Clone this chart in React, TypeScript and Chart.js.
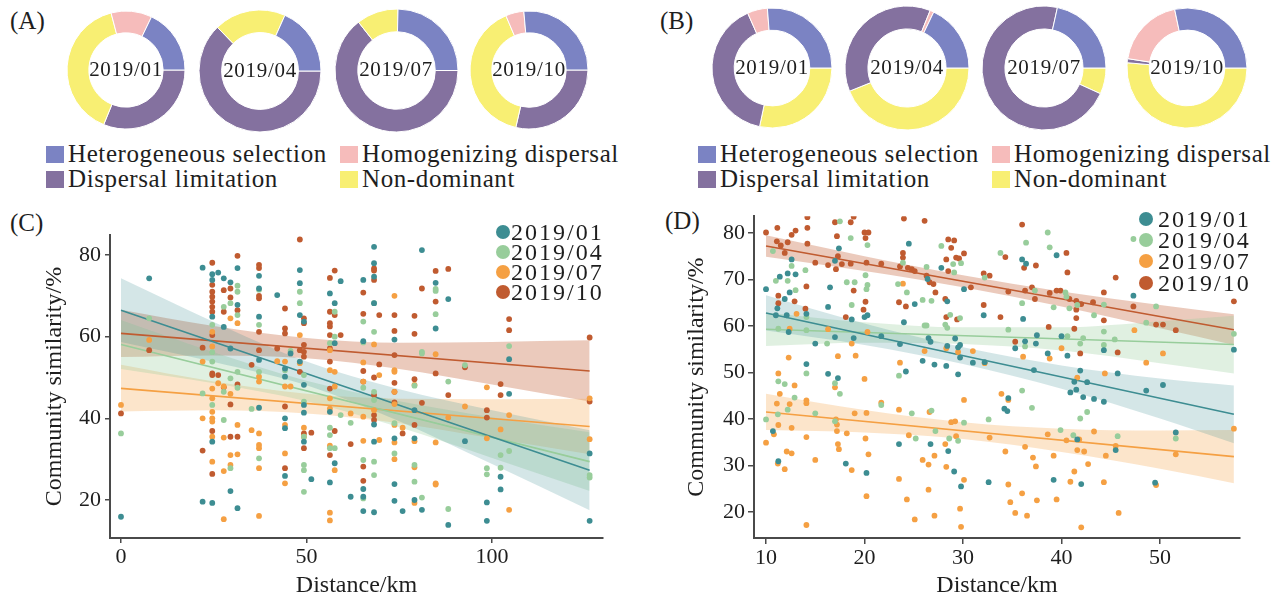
import React, { useEffect, useRef } from "react";
import { Chart, registerables } from "chart.js";

Chart.register(...registerables);

const SERIF = "'Liberation Serif', 'Times New Roman', Times, serif";
const INK = "#1e1e1e";
const AXIS = "#4a4a4a";

// ---------- doughnut panels ----------
const CATEGORY_LABELS = ["Heterogeneous selection", "Homogenizing dispersal", "Dispersal limitation", "Non-dominant"];
const CATEGORY_COLORS = ["#7b83c3", "#f6bcbb", "#84719f", "#f8ef73"];
const MONTHS = ["2019/01", "2019/04", "2019/07", "2019/10"];

// shares (%) per month: [Heterogeneous, Homogenizing, Dispersal limitation, Non-dominant]
const A_SHARES = [
  [17.9, 11.2, 31.2, 39.8],
  [18.3, 0, 62.7, 19.0],
  [24.6, 0, 64.4, 11.0],
  [26.4, 5.0, 28.6, 40.0],
];
const B_SHARES = [
  [26.2, 5.4, 40.0, 28.3],
  [17.9, 1.0, 37.2, 43.9],
  [21.5, 0, 71.6, 6.8],
  [28.3, 19.2, 1.1, 51.4],
];
// clockwise drawing order starting at 3 o'clock
const A_ORDER = [2, 3, 1, 0];
const B_ORDER = [3, 2, 1, 0];

// ---------- scatter panels ----------
const SERIES_COLORS = ["#3d8d92", "#98cd9b", "#f5a043", "#c05b30"];
const BAND_COLORS = ["rgba(61,141,146,0.22)", "rgba(152,205,155,0.30)", "rgba(245,160,67,0.28)", "rgba(192,91,48,0.32)"];

type Pt = [number, number];

const C_JAN: Pt[] = [[0,15.9],[7.6,74.3],[22,76.9],[22,19.6],[24.6,75.3],[24.6,73.9],[24.6,64.9],[24.6,34.3],[24.6,19.3],[26.2,75.7],[27.7,74.3],[27.7,62.4],[29.5,73.3],[29.5,57.1],[29.5,22.2],[31.4,76.8],[31.4,67.8],[31.4,18.0],[37.2,74.9],[37.2,71.8],[37.2,64.9],[37.2,54.3],[37.2,42.6],[42.1,70.2],[44.2,52.2],[44.2,50.2],[44.2,40],[44.2,37.6],[44.2,25.9],[45.7,55.9],[48.2,76.3],[48.2,73.1],[48.2,65.3],[48.2,53.9],[49.3,63.7],[49.3,48.2],[49.3,43.3],[49.3,41.4],[49.3,34.3],[51.3,25.1],[56.3,70.6],[56.3,41.6],[56.3,24.3],[57.6,68.2],[57.6,58.4],[57.6,29],[59.2,73.6],[61.9,20.8],[65.3,73.9],[65.3,58.9],[65.3,22.7],[65.3,20.8],[65.3,17.3],[68.2,82],[68.2,78],[68.2,74.7],[68.2,68.2],[68.2,38.5],[68.2,34.3],[68.2,17],[73.7,59.3],[73.7,35.1],[73.7,23.9],[73.7,19.8],[75.9,17.3],[79.1,42],[79.1,35.1],[79.1,20],[81.1,81.2],[81.1,17.6],[84.8,73.2],[84.8,62],[88.2,69.2],[88.2,13.9],[92.7,34.4],[98.6,19.4],[98.6,14.9],[102.3,25.7],[102.3,22.6],[104.6,54.5],[104.6,46],[126.3,31.4],[126.3,14.9]];
const C_APR: Pt[] = [[0,36.3],[7.6,64.5],[22,46.1],[24.6,62.9],[24.6,56.2],[24.6,53.9],[24.6,43.3],[27.7,67.3],[27.7,46.5],[27.7,39.6],[29.5,68.2],[29.5,49.8],[29.5,27.8],[31.4,72.5],[31.4,71],[31.4,65.3],[31.4,51.4],[31.4,47.5],[35.2,42.3],[37.2,71.5],[37.2,62.9],[37.2,51.4],[37.2,30.2],[44.2,51.8],[45.7,56.5],[48.2,71],[48.2,68.2],[49.3,50.6],[49.3,44.1],[49.3,35.5],[49.3,28.6],[49.3,27.3],[49.3,22],[56.3,58.4],[56.3,37.7],[56.3,35.9],[56.3,32.7],[57.6,66.1],[57.6,60],[57.6,32.7],[59.2,40.8],[61.9,38.9],[65.3,63.7],[65.3,58.6],[65.3,47.5],[65.3,29.8],[65.3,20.4],[68.2,68.2],[68.2,61.2],[68.2,46.5],[68.2,44.5],[68.2,29.4],[68.2,26.1],[73.7,38.8],[73.7,31.4],[79.1,48],[79.1,28.6],[79.1,24.5],[81.1,56.3],[81.1,55.9],[81.1,20.6],[84.8,71.7],[84.8,71.2],[84.8,65.5],[88.2,49],[88.2,17.8],[92.7,53],[98.6,27.8],[98.6,26.3],[102.3,31],[102.3,27.9],[104.6,57.7],[104.6,32],[126.3,26.1],[126.3,25.5]];
const C_JUL: Pt[] = [[0,43.3],[7.6,59.2],[22,53.9],[22,40],[24.6,61.2],[24.6,57.6],[24.6,47.3],[24.6,44.9],[24.6,41.6],[24.6,40],[24.6,39.2],[24.6,35.5],[24.6,29.4],[26.2,48.6],[27.7,47.8],[27.7,35.3],[27.7,27.1],[27.7,15.3],[29.5,64.5],[29.5,46],[29.5,31],[29.5,28.6],[31.4,63.3],[31.4,38.4],[31.4,31.2],[35.2,37.1],[37.2,50.2],[37.2,49],[37.2,36.3],[37.2,33.5],[37.2,32.7],[37.2,27.8],[37.2,16.1],[42.1,54],[44.2,53.9],[44.2,47.8],[44.2,38.4],[44.2,31.4],[44.2,24.1],[45.7,47.8],[48.2,60.4],[48.2,53.5],[49.3,37.7],[49.3,35.5],[56.3,56.7],[56.3,51.8],[56.3,44.9],[56.3,42.4],[56.3,33.3],[56.3,16.9],[56.3,15],[57.6,51.4],[57.6,47.8],[57.6,27.3],[61.9,41.2],[65.3,53.7],[65.3,49],[65.3,40.4],[65.3,34.5],[68.2,58.1],[68.2,42],[69.6,50.6],[69.6,34.7],[73.7,70],[73.7,51.8],[73.7,51.4],[73.7,46.5],[73.7,43.5],[73.7,38.4],[73.7,34.1],[73.7,30],[75.9,37.7],[79.1,48.2],[79.1,34.4],[79.1,28],[79.1,19.3],[84.8,55.7],[84.8,34.1],[84.8,23.8],[84.8,24.1],[88.2,40.2],[92.7,42.9],[98.6,47.6],[98.6,35.1],[102.3,37.3],[104.6,40.8],[104.6,17.6],[126.3,44.9],[126.3,34.9]];
const C_OCT: Pt[] = [[0,41.2],[7.6,56.7],[22,57.3],[22,32.1],[24.6,78.1],[24.6,72.7],[24.6,71],[24.6,69.8],[24.6,68.6],[24.6,67.3],[24.6,66.1],[24.6,60.4],[24.6,51],[24.6,50.6],[24.6,36.9],[24.6,26.4],[26.2,50.6],[27.7,71.4],[27.7,66.1],[27.7,47.6],[29.5,69.6],[29.5,71.8],[29.5,43.4],[29.5,35.5],[31.4,79.8],[31.4,66.5],[31.4,48.3],[31.4,35.5],[35.2,53.1],[37.2,77.6],[37.2,76.8],[37.2,70],[37.2,69.4],[37.2,61.2],[37.2,56.7],[42.1,57.1],[44.2,66.9],[44.2,62],[44.2,60.8],[44.2,42.9],[44.2,27.8],[48.2,83.8],[48.2,56.7],[48.2,51.4],[49.3,64.5],[49.3,63.3],[49.3,58],[49.3,56.3],[49.3,55.1],[49.3,36.3],[49.3,32.7],[51.3,36.5],[56.3,74.4],[56.3,66.1],[56.3,63.3],[56.3,62.5],[56.3,60.4],[56.3,57.1],[56.3,53.9],[56.3,47.3],[56.3,31],[57.6,76.2],[57.6,65.3],[57.6,36.9],[59.2,60.4],[61.9,33.7],[65.3,70.8],[65.3,65.6],[65.3,51.6],[65.3,49],[65.3,28.2],[65.3,24.7],[68.2,76.7],[68.2,76.2],[68.2,73.9],[68.2,50],[68.2,45.7],[68.2,40.8],[68.2,39.6],[69.6,65.3],[69.6,53.2],[73.7,65.3],[73.7,61.4],[73.7,55.5],[73.7,48.7],[73.7,46.5],[73.7,43.9],[75.9,36.3],[79.1,65.1],[79.1,60.7],[79.1,49.6],[79.1,38.4],[81.1,71.8],[81.1,43.8],[84.8,76.1],[84.8,68.6],[84.8,51],[88.2,76.6],[88.2,45.7],[92.7,52.5],[98.6,42],[98.6,40.2],[102.3,48.4],[102.3,45.7],[104.6,64.3],[104.6,61.6],[126.3,59.8],[126.3,44.1]];

const D_JAN: Pt[] = [[10,67.9],[11.4,70.6],[11.9,65.8],[12.4,67.2],[13,71.1],[12.2,71.3],[11.15,63.8],[11,62.3],[12.1,62.3],[12.6,74.3],[14.1,62.6],[16.5,68.3],[16.3,64.1],[18.7,61.4],[17.4,76.7],[17,74],[20,61.9],[20.3,62.3],[24.5,77.7],[25.1,64.7],[24,60.8],[26.4,70.1],[27.8,72.5],[28.4,65.3],[30.1,67.9],[32.1,62.3],[12.3,58.7],[15,56.2],[17,57.6],[18.9,57.4],[14.1,51.8],[16.3,49.7],[17.3,48.8],[21.7,57.8],[23.6,56.1],[24.2,50.2],[25.9,52.5],[27.1,51.7],[28.3,51.4],[26.5,57.4],[26.7,56.6],[28.4,55.7],[29.2,57.3],[29.5,55.4],[29.7,55.9],[29.5,49.6],[29.7,53.2],[31,52.1],[32.2,52.2],[10.7,37.4],[11.25,30.9],[18.1,30.4],[20.2,28.4],[23.5,34.6],[26.7,34.6],[28.5,33.1],[29.1,28.7],[29.8,25.5],[32.6,26.4],[39.5,75.2],[36,74.3],[36.4,73.4],[47.3,66.5],[57.5,54.9],[36.1,61.5],[37.5,58],[40,57.8],[44.3,54.8],[36.3,56.7],[37.4,56.2],[35.3,55.2],[40.6,53.6],[38.6,54.1],[37.2,50.5],[41.9,50.4],[41.3,48],[42.6,47.9],[40.9,45.7],[41.5,46.3],[42.2,44.7],[43.3,44.3],[44.3,43.7],[45.7,49.8],[48.6,46.1],[50.3,47.3],[34.6,44.5],[34.2,42.2],[34.5,41.7],[41.6,35.6],[45.5,33.3],[39.2,26.9],[42,26],[49.5,26.3],[51.6,37.1]];
const D_APR: Pt[] = [[10.7,76.1],[17.5,82.5],[18.6,78.9],[20.3,77.4],[23.9,73.6],[26.3,72.7],[27.8,77.2],[29,73.3],[29.1,71.5],[29.8,73.5],[11,69.7],[12.2,69.7],[12.6,72.9],[13,67.7],[14,72],[14.1,61.9],[18.2,69.4],[19,69.4],[18.7,64.5],[20.2,67.9],[20.1,70.9],[20.3,68.8],[23.4,69],[24.3,67.2],[25.9,65.6],[26.8,65.4],[28.7,62.4],[29.7,61.7],[26.1,60.1],[26.3,60.1],[32.2,70.4],[28.4,59.6],[28.2,60.3],[11.25,59.4],[14.1,59.1],[16.2,56.2],[11.25,48.1],[11.9,47.5],[14.1,49.8],[17,47.7],[17.5,45.4],[23.5,49.3],[10,39.9],[12.2,42],[11.2,41],[12.9,44.6],[15,41.2],[17,39.5],[21.7,43],[24.8,41.2],[25.2,35.8],[26.8,41.8],[27.2,37.4],[28.6,35.8],[29.5,35.3],[30.1,39.2],[32.6,39.9],[36.4,77.9],[38.6,80.1],[38.8,76.9],[33.8,75.7],[47.3,78.7],[37.3,67.6],[40.4,67.2],[40.5,66.3],[41.6,64.5],[44.3,64.6],[43.3,62.3],[49.6,64.2],[48.6,60.7],[57.5,58.3],[39.2,64],[40.8,63.8],[36,64.9],[34.6,59.2],[40.6,57.8],[42.2,57.4],[44.3,58.8],[45.4,57.1],[44.3,55.9],[41.9,56.2],[36.3,55.6],[36,46.1],[37,42.4],[42.6,41.5],[41.9,40.1],[39.9,37.6],[41.2,36.5],[45.7,36.3],[51.6,35.8]];
const D_JUL: Pt[] = [[12.4,59.4],[13.1,62.6],[16.3,59.3],[18.7,56.2],[12.3,53.2],[11.25,49.8],[12.9,47.2],[17.3,53.5],[19.1,53.6],[17,46.8],[20,48.6],[20.3,58.7],[23.6,52.1],[26.1,54.6],[28.3,55.2],[29.5,54.4],[31,54.6],[32.2,52],[10,34.9],[10.8,36.7],[11.1,43.3],[11.4,45.4],[12.4,43.2],[12.6,38.1],[11.25,38.7],[11.2,30.4],[11.9,29.2],[12.1,33],[12.6,32.6],[14.1,44],[14.1,43.4],[14.1,36.1],[14.1,17.2],[15,31.2],[17.1,39.9],[17.2,38.8],[17.2,37.4],[17.3,34.6],[17.4,33.5],[18.2,36.9],[18.7,29],[19,41.2],[20.2,41.3],[20.1,35.8],[20.4,32.4],[20.2,23.4],[21.7,43.5],[23.5,42],[23.5,27.1],[24.3,22.7],[24.5,36.5],[25.1,18.4],[26.6,41.5],[25.9,31.2],[26.5,30.2],[27.1,32.1],[26.5,24.8],[27.1,19.2],[28.2,34.6],[28.3,29.7],[28.8,39.3],[29.2,39.5],[29.3,36.3],[30.1,26.9],[29.7,20.7],[29.8,16.8],[30.1,44.1],[23.9,69.1],[40,55.2],[38.8,53],[36.1,53.4],[47.4,59.1],[48.6,52.1],[50.3,54.1],[41.6,48.9],[44.4,49.8],[33.9,45.4],[34.6,44.1],[32.7,36],[38.6,36.7],[40.5,35.4],[41.8,35.6],[43.3,37.3],[45.5,34.2],[51.6,32.4],[57.5,37.9],[36.3,34],[34.3,33],[37.1,31.7],[39.2,32.1],[41.6,33.3],[42.3,33],[44.5,32.1],[42.7,30.3],[37.4,29.8],[41.3,28.7],[40.9,26.5],[44.3,26.4],[49.6,25.8],[34.6,25.9],[36,24],[37.5,22.5],[39.5,22.7],[34.8,22.1],[35.3,19.8],[36.5,19.2],[45.8,19.8],[42,16.7]];
const D_OCT: Pt[] = [[10,80.1],[11.25,84.3],[11.15,81.1],[11.1,78.2],[11.5,77.3],[11.9,75.7],[12.2,78],[12.6,79.6],[13,80.5],[14.2,83.4],[14.2,81.1],[14.2,77.7],[15,73.6],[16.3,73.1],[17,82.3],[17.2,79.3],[18.9,83.5],[18.6,82.3],[17.3,75],[17.1,72.2],[17.7,73.3],[18.6,73.4],[20,80.1],[20.4,80.1],[20.1,78.9],[20.2,73.6],[21.7,73.4],[24,83.1],[26.1,82.6],[23.9,75.7],[23.9,74.7],[23.6,72.8],[24.4,72.5],[24.8,72.2],[25.1,71.8],[26.3,70.8],[27,69],[28.5,78.6],[29.1,78.4],[28.8,76.8],[28.3,74.3],[29.3,74.7],[30.1,75.6],[28.5,71.8],[29.6,74.5],[11.25,66.5],[12.9,65.3],[11.25,64.9],[14.1,68.5],[14,63.7],[18.9,67.6],[18.1,61.9],[20.1,65.2],[19.9,63.5],[23.5,65.1],[24.2,64.2],[26.6,69.4],[27.2,67.2],[28.2,65.8],[28.3,61.9],[30.8,68.3],[29.4,61.4],[32.1,71.3],[32.1,64.5],[36,81.8],[40.5,75.7],[36.2,72.5],[37.4,73],[40.6,71.5],[34.3,74.8],[32.7,70.8],[45.5,70.4],[57.5,65.3],[34.6,67.4],[36.3,67.6],[37,68.3],[37.3,65.8],[38.8,67.1],[39.5,67.6],[39.9,67.6],[40.8,65.8],[41.5,65.4],[42,64.7],[43.2,65.1],[44.3,67.2],[41.5,63.5],[41.5,61.7],[44.3,61.2],[49.6,60.3],[50.3,60.3],[51.6,59.1],[47.3,64.2],[38.7,59.8],[41.3,59.4],[33.8,61.9],[35.3,56.6],[41.9,54.1],[45.7,54.3]];

// fitted lines (endpoints) per month
const C_LINE_X = [0, 126.3];
const C_LINE_Y = [[66.5, 27.3], [58.1, 29.4], [47.35, 38.0], [60.8, 51.6]];
const D_LINE_X = [10, 57.5];
const D_LINE_Y = [[62.8, 41.0], [59.3, 56.0], [41.5, 31.9], [77.2, 59.2]];

// confidence bands read at sample distances
const C_BAND_X = [0, 25, 50, 75, 100, 126.3];
const C_BAND_LOW = [[58.7, 53.8, 48.1, 39.3, 28.8, 17.5], [52.1, 48.6, 44.2, 37.8, 30.3, 22.2], [41.7, 42.0, 41.2, 38.8, 35.1, 31.2], [55.0, 55.4, 54.7, 52.1, 48.3, 44.1]];
const C_BAND_HIGH = [[74.3, 63.6, 53.9, 47.1, 42.0, 37.1], [64.1, 56.2, 49.2, 44.2, 40.3, 36.6], [53.1, 49.0, 46.0, 44.8, 44.7, 44.8], [66.6, 62.6, 59.7, 58.5, 58.7, 59.1]];
const D_BAND_X = [10, 20, 30, 40, 50, 57.5];
const D_BAND_LOW = [[59.0, 55.9, 51.8, 46.5, 40.1, 34.8], [55.7, 56.4, 56.1, 54.7, 52.0, 49.8], [37.6, 37.1, 35.7, 32.9, 29.3, 26.2], [74.9, 71.8, 68.3, 64.2, 59.5, 55.9]];
const D_BAND_HIGH = [[66.6, 60.5, 55.4, 51.5, 48.7, 47.2], [62.9, 60.8, 59.7, 59.7, 61.0, 62.2], [45.4, 41.9, 39.3, 37.9, 37.5, 37.6], [79.5, 75.0, 70.9, 67.4, 64.5, 62.5]];

const C_X_TICKS = [0, 50, 100];
const C_Y_TICKS = [20, 40, 60, 80];
const D_X_TICKS = [10, 20, 30, 40, 50];
const D_Y_TICKS = [20, 30, 40, 50, 60, 70, 80];

const X_TITLE = "Distance/km";
const Y_TITLE = "Community similarity/%";

// ---------- components ----------
function Donut(props: { shares: number[]; order: number[]; cx: number; cy: number; r: number; label: string }) {
  const { shares, order, cx, cy, r, label } = props;
  const ref = useRef<HTMLCanvasElement>(null);
  const size = Math.ceil(2 * r + 6);
  useEffect(() => {
    const idx = order.filter((i) => shares[i] > 0);
    const chart = new Chart(ref.current as HTMLCanvasElement, {
      type: "doughnut",
      data: {
        labels: idx.map((i) => CATEGORY_LABELS[i]),
        datasets: [
          {
            data: idx.map((i) => shares[i]),
            backgroundColor: idx.map((i) => CATEGORY_COLORS[i]),
            borderColor: "#ffffff",
            borderWidth: 1,
          },
        ],
      },
      options: {
        responsive: false,
        animation: false,
        events: [],
        rotation: 90,
        radius: r,
        cutout: "63%",
        layout: { padding: 0 },
        plugins: { legend: { display: false }, tooltip: { enabled: false } },
      } as any,
    });
    return () => chart.destroy();
  }, []);
  return (
    <>
      <canvas
        ref={ref}
        width={size}
        height={size}
        style={{ position: "absolute", left: cx - size / 2, top: cy - size / 2, width: size, height: size }}
      />
      <div
        style={{
          position: "absolute",
          left: cx - 60,
          width: 120,
          top: cy - 1 - 10.5,
          textAlign: "center",
          font: `21px/21px ${SERIF}`,
          letterSpacing: "0.7px",
          color: INK,
          whiteSpace: "nowrap",
        }}
      >
        {label}
      </div>
    </>
  );
}

function CategoryLegend(props: { x: number; y: number }) {
  const { x, y } = props;
  const cells = [
    { c: 0, dx: 0, dy: 0 },
    { c: 1, dx: 294, dy: 0 },
    { c: 2, dx: 0, dy: 24.5 },
    { c: 3, dx: 294, dy: 24.5 },
  ];
  return (
    <>
      {cells.map((cell) => (
        <React.Fragment key={cell.c}>
          <div
            style={{
              position: "absolute",
              left: x + cell.dx,
              top: y + cell.dy,
              width: 18,
              height: 17,
              background: CATEGORY_COLORS[cell.c],
            }}
          />
          <div
            style={{
              position: "absolute",
              left: x + cell.dx + 22,
              top: y + cell.dy - 5,
              font: `25px/25px ${SERIF}`,
              letterSpacing: "0.6px",
              color: INK,
              whiteSpace: "nowrap",
            }}
          >
            {CATEGORY_LABELS[cell.c]}
          </div>
        </React.Fragment>
      ))}
    </>
  );
}

function MonthLegend(props: { cx: number; rows: number[]; textLeft: number }) {
  const { cx, rows, textLeft } = props;
  return (
    <>
      {MONTHS.map((m, i) => (
        <React.Fragment key={m}>
          <div
            style={{
              position: "absolute",
              left: cx - 7,
              top: rows[i] - 7,
              width: 14,
              height: 14,
              borderRadius: "50%",
              background: SERIES_COLORS[i],
            }}
          />
          <div
            style={{
              position: "absolute",
              left: textLeft,
              top: rows[i] - 12,
              font: `24px/24px ${SERIF}`,
              letterSpacing: "2px",
              color: INK,
              whiteSpace: "nowrap",
            }}
          >
            {m}
          </div>
        </React.Fragment>
      ))}
    </>
  );
}

interface PanelCfg {
  left: number;
  top: number;
  width: number;
  height: number;
  area: { left: number; top: number; right: number; bottom: number };
  xRange: [number, number];
  yRange: [number, number];
  xTicks: number[];
  yTicks: number[];
  series: Pt[][];
  lineX: number[];
  lineY: number[][];
  bandX: number[];
  bandLow: number[][];
  bandHigh: number[][];
  tickLen: number;
  tickPad: number;
  yTitlePad: number;
}

function ScatterPanel(props: { cfg: PanelCfg }) {
  const cfg = props.cfg;
  const ref = useRef<HTMLCanvasElement>(null);
  useEffect(() => {
    const datasets: any[] = [];
    cfg.series.forEach((pts, s) => {
      datasets.push({
        type: "scatter",
        label: MONTHS[s],
        data: pts.map(([x, y]) => ({ x, y })),
        backgroundColor: SERIES_COLORS[s],
        borderColor: SERIES_COLORS[s],
        borderWidth: 0,
        pointRadius: 2.9,
        order: 1,
      });
    });
    cfg.lineY.forEach((ys, s) => {
      datasets.push({
        type: "line",
        data: cfg.lineX.map((x, i) => ({ x, y: ys[i] })),
        borderColor: SERIES_COLORS[s],
        borderWidth: 1.6,
        pointRadius: 0,
        fill: false,
        order: 2,
      });
    });
    cfg.bandHigh.forEach((hi, s) => {
      datasets.push({
        type: "line",
        data: cfg.bandX.map((x, i) => ({ x, y: hi[i] })),
        borderColor: "rgba(0,0,0,0)",
        borderWidth: 0,
        pointRadius: 0,
        cubicInterpolationMode: "monotone",
        fill: "+1",
        backgroundColor: BAND_COLORS[s],
        order: 3,
      });
      datasets.push({
        type: "line",
        data: cfg.bandX.map((x, i) => ({ x, y: cfg.bandLow[s][i] })),
        borderColor: "rgba(0,0,0,0)",
        borderWidth: 0,
        pointRadius: 0,
        cubicInterpolationMode: "monotone",
        fill: false,
        order: 3,
      });
    });

    const tickFont = { family: SERIF, size: 22 };
    const titleFont = { family: SERIF, size: 24, lineHeight: 1 };
    const grid = {
      display: true,
      drawOnChartArea: false,
      drawTicks: true,
      tickLength: cfg.tickLen,
      color: AXIS,
      lineWidth: 1.5,
    };
    const border = { display: true, color: AXIS, width: 2 };

    const chart = new Chart(ref.current as HTMLCanvasElement, {
      type: "scatter",
      data: { datasets },
      options: {
        responsive: false,
        animation: false,
        events: [],
        layout: {
          padding: {
            left: 0,
            top: cfg.area.top - cfg.top,
            right: cfg.left + cfg.width - cfg.area.right,
            bottom: 0,
          },
        },
        plugins: { legend: { display: false }, tooltip: { enabled: false } },
        scales: {
          x: {
            type: "linear",
            min: cfg.xRange[0],
            max: cfg.xRange[1],
            afterBuildTicks: (s: any) => {
              s.ticks = cfg.xTicks.map((v) => ({ value: v }));
            },
            afterFit: (s: any) => {
              s.height = cfg.top + cfg.height - cfg.area.bottom;
            },
            grid,
            border,
            ticks: { autoSkip: false, maxRotation: 0, padding: 1, color: INK, font: tickFont },
            title: { display: true, text: X_TITLE, color: INK, font: titleFont, padding: 0 },
          },
          y: {
            type: "linear",
            min: cfg.yRange[0],
            max: cfg.yRange[1],
            afterBuildTicks: (s: any) => {
              s.ticks = cfg.yTicks.map((v) => ({ value: v }));
            },
            afterFit: (s: any) => {
              s.width = cfg.area.left - cfg.left;
            },
            grid,
            border,
            ticks: { autoSkip: false, padding: cfg.tickPad, color: INK, font: tickFont },
            title: {
              display: true,
              text: Y_TITLE,
              color: INK,
              font: titleFont,
              padding: { top: cfg.yTitlePad, bottom: 0 },
            },
          },
        },
      } as any,
    });
    return () => chart.destroy();
  }, []);
  return (
    <canvas
      ref={ref}
      width={cfg.width}
      height={cfg.height}
      style={{ position: "absolute", left: cfg.left, top: cfg.top, width: cfg.width, height: cfg.height }}
    />
  );
}

const PANEL_C: PanelCfg = {
  left: 0,
  top: 200,
  width: 640,
  height: 398,
  area: { left: 110, top: 235, right: 603, bottom: 538 },
  xRange: [-2.96, 129.9],
  yRange: [10.7, 84.9],
  xTicks: C_X_TICKS,
  yTicks: C_Y_TICKS,
  series: [C_JAN, C_APR, C_JUL, C_OCT],
  lineX: C_LINE_X,
  lineY: C_LINE_Y,
  bandX: C_BAND_X,
  bandLow: C_BAND_LOW,
  bandHigh: C_BAND_HIGH,
  tickLen: 5,
  tickPad: 4,
  yTitlePad: 43,
};

const PANEL_D: PanelCfg = {
  left: 640,
  top: 200,
  width: 646,
  height: 398,
  area: { left: 754, top: 213, right: 1240, bottom: 538 },
  xRange: [8.78, 58.12],
  yRange: [14.4, 83.6],
  xTicks: D_X_TICKS,
  yTicks: D_Y_TICKS,
  series: [D_JAN, D_APR, D_JUL, D_OCT],
  lineX: D_LINE_X,
  lineY: D_LINE_Y,
  bandX: D_BAND_X,
  bandLow: D_BAND_LOW,
  bandHigh: D_BAND_HIGH,
  tickLen: 6,
  tickPad: 3,
  yTitlePad: 45,
};

const A_DONUTS = [
  { cx: 126, cy: 70, r: 59 },
  { cx: 260, cy: 71, r: 61 },
  { cx: 396, cy: 70, r: 61.5 },
  { cx: 529, cy: 70, r: 59 },
];
const B_DONUTS = [
  { cx: 772, cy: 68, r: 60 },
  { cx: 907, cy: 68, r: 62 },
  { cx: 1044, cy: 68, r: 62 },
  { cx: 1187, cy: 68, r: 60 },
];

function PanelLabel(props: { x: number; y: number; text: string }) {
  return (
    <div
      style={{
        position: "absolute",
        left: props.x,
        top: props.y,
        font: `25px/25px ${SERIF}`,
        color: INK,
        whiteSpace: "nowrap",
      }}
    >
      {props.text}
    </div>
  );
}

export default function App() {
  return (
    <div
      style={{
        position: "fixed",
        left: 0,
        top: 0,
        width: 1286,
        height: 598,
        background: "#ffffff",
        overflow: "hidden",
        fontFamily: SERIF,
      }}
    >
      <PanelLabel x={10} y={8} text="(A)" />
      <PanelLabel x={660} y={8} text="(B)" />
      <PanelLabel x={10} y={210} text="(C)" />
      <PanelLabel x={665} y={208} text="(D)" />

      {A_DONUTS.map((d, i) => (
        <Donut key={"a" + i} shares={A_SHARES[i]} order={A_ORDER} cx={d.cx} cy={d.cy} r={d.r} label={MONTHS[i]} />
      ))}
      {B_DONUTS.map((d, i) => (
        <Donut key={"b" + i} shares={B_SHARES[i]} order={B_ORDER} cx={d.cx} cy={d.cy} r={d.r} label={MONTHS[i]} />
      ))}

      <CategoryLegend x={46} y={146} />
      <CategoryLegend x={698} y={146} />

      <ScatterPanel cfg={PANEL_C} />
      <ScatterPanel cfg={PANEL_D} />

      <MonthLegend cx={502.5} rows={[232, 252, 272, 292]} textLeft={511} />
      <MonthLegend cx={1146} rows={[219, 240, 261, 283]} textLeft={1158} />
    </div>
  );
}
